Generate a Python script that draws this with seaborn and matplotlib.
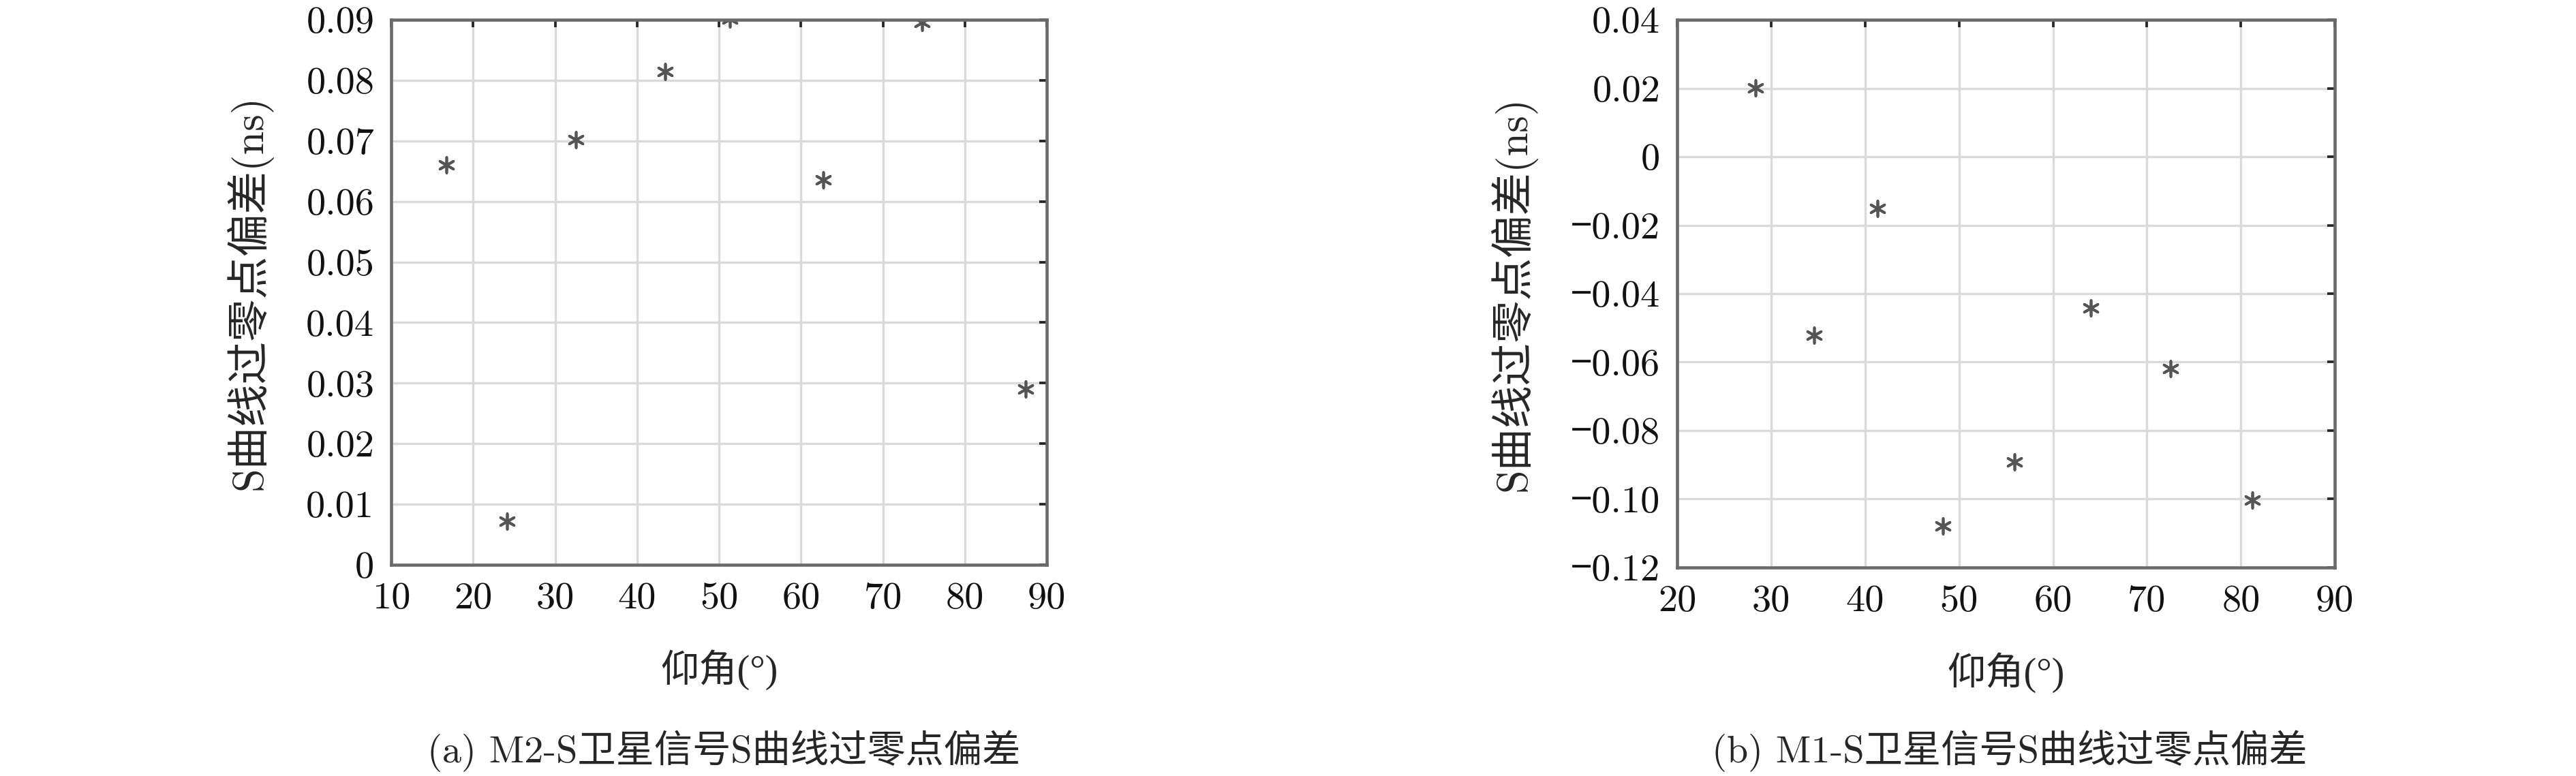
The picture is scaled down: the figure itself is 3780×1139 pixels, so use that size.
import numpy as np
import pandas as pd
import seaborn as sns
import matplotlib.pyplot as plt

# (a) M2-S
elev_a = [16.7, 24.1, 32.5, 43.4, 51.3, 62.7, 74.8, 87.4]
bias_a = [0.0660, 0.0072, 0.0702, 0.0814, 0.0901, 0.0636, 0.0895, 0.0290]
xticks_a = [10, 20, 30, 40, 50, 60, 70, 80, 90]
yticks_a = [0, 0.01, 0.02, 0.03, 0.04, 0.05, 0.06, 0.07, 0.08, 0.09]
ylabels_a = ['0', '0.01', '0.02', '0.03', '0.04', '0.05', '0.06', '0.07', '0.08', '0.09']

# (b) M1-S
elev_b = [28.3, 34.6, 41.3, 48.3, 55.9, 64.0, 72.5, 81.2]
bias_b = [0.0202, -0.0521, -0.0152, -0.1078, -0.0891, -0.0441, -0.0619, -0.1003]
xticks_b = [20, 30, 40, 50, 60, 70, 80, 90]
yticks_b = [0.04, 0.02, 0, -0.02, -0.04, -0.06, -0.08, -0.10, -0.12]
ylabels_b = ['0.04', '0.02', '0', '\u22120.02', '\u22120.04', '\u22120.06',
             '\u22120.08', '\u22120.10', '\u22120.12']

ylabel = 'S曲线过零点偏差(ns)'
xlabel = '仰角(°)'
captions = ['(a) M2-S卫星信号S曲线过零点偏差', '(b) M1-S卫星信号S曲线过零点偏差']

sns.set_style('white')
plt.rcParams['font.family'] = ['cmr10', 'Noto Sans CJK SC', 'DejaVu Sans']
plt.rcParams['axes.unicode_minus'] = False

fig = plt.figure(figsize=(12.6, 3.7967), dpi=300)
ax_a = fig.add_axes([0.1519, 0.2722, 0.2545, 0.7023])
ax_b = fig.add_axes([0.6511, 0.2687, 0.2553, 0.7058])

panels = [
    (ax_a, elev_a, bias_a, xticks_a, yticks_a, ylabels_a),
    (ax_b, elev_b, bias_b, xticks_b, yticks_b, ylabels_b),
]

for ax, xs, ys, xt, yt, yl in panels:
    df = pd.DataFrame({'elev': xs, 'bias': ys})
    sns.scatterplot(data=df, x='elev', y='bias', marker=(6, 2, 0), s=30,
                    color='#555555', edgecolor='#555555', linewidth=0.9, ax=ax)
    ax.set_xlim(xt[0], xt[-1])
    ax.set_ylim(min(yt), max(yt))
    ax.set_xticks(xt)
    ax.set_xticklabels([str(v) for v in xt])
    ax.set_yticks(yt)
    ax.set_yticklabels(yl)
    ax.grid(True, color='#dadada', linewidth=0.8)
    ax.set_axisbelow(True)
    for sp in ax.spines.values():
        sp.set_color('#6a6a6a')
        sp.set_linewidth(1.1)
    ax.tick_params(direction='in', length=2.6, width=0.9, color='#262626',
                   top=True, right=True, labelsize=13.5, labelcolor='#111111', pad=6)
    ax.set_xlabel(xlabel, fontsize=13.5, labelpad=12,
                  family=['Liberation Serif', 'Noto Sans CJK SC'])
    ax.set_ylabel(ylabel, fontsize=15, labelpad=12)

fig.text(0.281, 0.032, captions[0], ha='center', va='center', fontsize=13.5)
fig.text(0.780, 0.032, captions[1], ha='center', va='center', fontsize=13.5)

plt.savefig('out.png', dpi=300)
